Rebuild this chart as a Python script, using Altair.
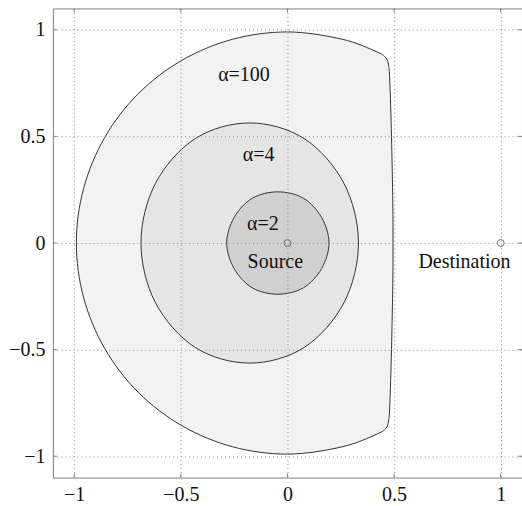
import altair as alt
import pandas as pd

# Boundary of the alpha=100 region (circle cut near x=0.5), traced counter-clockwise
outer_x = [0.495, 0.494, 0.488, 0.480, 0.474, 0.462, 0.42, 0.256, 0.0, -0.256,
           -0.495, -0.700, -0.857, -0.956, -0.99, -0.956, -0.857, -0.700,
           -0.495, -0.256, 0.0, 0.256, 0.42, 0.462, 0.474, 0.480, 0.488, 0.494]
outer_y = [0.0, 0.19, 0.5, 0.76, 0.835, 0.868, 0.896, 0.956, 0.99, 0.956,
           0.857, 0.700, 0.495, 0.256, 0.0, -0.256, -0.495, -0.700,
           -0.857, -0.956, -0.99, -0.956, -0.896, -0.868, -0.835, -0.76, -0.5, -0.19]

# Boundary of the alpha=4 region
mid_x = [0.333, 0.265, 0.078, -0.177, -0.432, -0.619, -0.687, -0.619, -0.432, -0.177, 0.078, 0.265]
mid_y = [0.0, 0.28, 0.49, 0.563, 0.49, 0.28, 0.0, -0.28, -0.49, -0.563, -0.49, -0.28]

# Boundary of the alpha=2 region
inner_x = [0.195, 0.16, 0.075, -0.045, -0.165, -0.25, -0.285, -0.25, -0.165, -0.045, 0.075, 0.16]
inner_y = [0.0, 0.12, 0.21, 0.24, 0.21, 0.12, 0.0, -0.12, -0.21, -0.24, -0.21, -0.12]

# Nodes
node_x = [0.0, 1.0]
node_y = [0.0, 0.0]

# Annotations
label_text = ["α=100", "α=4", "α=2", "Source", "Destination"]
label_x = [-0.204, -0.135, -0.115, -0.057, 0.830]
label_y = [0.762, 0.383, 0.061, -0.118, -0.118]

tick_values = [-1, -0.5, 0, 0.5, 1]
lim = [-1.1, 1.1]

W = H = 470
TICK = 4
SERIF = "Liberation Serif"

xscale = alt.Scale(domain=lim, nice=False, zero=False)
yscale = alt.Scale(domain=lim, nice=False, zero=False)

common_axis = dict(
    values=tick_values, format="~g", grid=True, gridDash=[1, 3],
    gridColor="#8a8a8a", gridWidth=1, domain=False, ticks=False, tickSize=0,
    labelFont=SERIF, labelFontSize=20, labelColor="#111111",
    labelFlush=False, labelOverlap=False, title=None, zindex=1,
)
xaxis = alt.Axis(labelPadding=7, **common_axis)
yaxis = alt.Axis(labelPadding=8, **common_axis)


def enc(**kw):
    return dict(
        x=alt.X("x:Q", scale=xscale, axis=xaxis),
        y=alt.Y("y:Q", scale=yscale, axis=yaxis),
        **kw,
    )


def region(xs, ys, fill):
    df = pd.DataFrame({"x": xs, "y": ys, "i": list(range(len(xs)))})
    return alt.Chart(df).mark_line(
        fill=fill, stroke="#333333", strokeWidth=1, interpolate="cardinal-closed"
    ).encode(**enc(order=alt.Order("i:Q")))


outer = region(outer_x, outer_y, "#f2f2f2")
middle = region(mid_x, mid_y, "#e5e5e5")
inner = region(inner_x, inner_y, "#d0d0d0")

nodes = alt.Chart(pd.DataFrame({"x": node_x, "y": node_y})).mark_point(
    shape="circle", size=49, filled=False, stroke="#444444", strokeWidth=1
).encode(**enc())

labels = alt.Chart(
    pd.DataFrame({"x": label_x, "y": label_y, "t": label_text})
).mark_text(
    font=SERIF, fontSize=20, baseline="alphabetic", align="center", color="#111111"
).encode(**enc(text="t:N"))

# Inward tick marks on all four sides of the box
tdf = pd.DataFrame({"v": tick_values})
rule_style = dict(color="#808080", strokeWidth=1)
ticks_bottom = alt.Chart(tdf).mark_rule(**rule_style).encode(
    x=alt.X("v:Q", scale=xscale, axis=xaxis), y=alt.value(H), y2=alt.value(H - TICK))
ticks_top = alt.Chart(tdf).mark_rule(**rule_style).encode(
    x=alt.X("v:Q", scale=xscale, axis=xaxis), y=alt.value(0), y2=alt.value(TICK))
ticks_left = alt.Chart(tdf).mark_rule(**rule_style).encode(
    y=alt.Y("v:Q", scale=yscale, axis=yaxis), x=alt.value(0), x2=alt.value(TICK))
ticks_right = alt.Chart(tdf).mark_rule(**rule_style).encode(
    y=alt.Y("v:Q", scale=yscale, axis=yaxis), x=alt.value(W), x2=alt.value(W - TICK))

chart = alt.layer(
    outer, middle, inner, nodes, labels,
    ticks_bottom, ticks_top, ticks_left, ticks_right,
).properties(
    width=W, height=H,
    autosize=alt.AutoSizeParams(type="none"),
    padding={"left": 53, "top": 8, "right": 0, "bottom": 28},
    background="white",
).configure_view(stroke="#808080", strokeWidth=1)

chart.save("out.html", embed_options={"renderer": "svg", "actions": False})
